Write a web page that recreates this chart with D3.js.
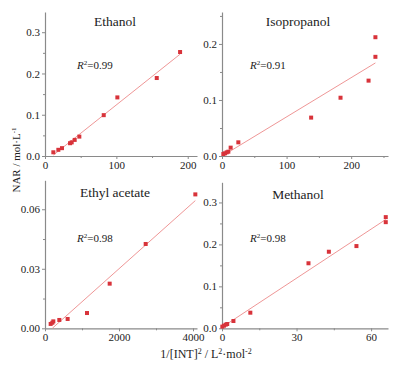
<!DOCTYPE html>
<html>
<head>
<meta charset="utf-8">
<script src="https://cdn.jsdelivr.net/npm/d3@7"></script>
<style>
  body { margin: 0; background: #fff; }
  text { font-family: "Liberation Serif", "Times New Roman", serif; fill: #222; }
</style>
</head>
<body>
<div id="chart"></div>
<script>
// Datos
const names = ["Ethanol", "Isopropanol", "Ethyl acetate", "Methanol"];
const r2Labels = ["0.99", "0.91", "0.98", "0.98"];

const ethanolX = [11.7, 18.7, 23.8, 35.1, 37.4, 41.6, 48.1, 82.3, 101.4, 156.6, 189.3];
const ethanolY = [0.009, 0.015, 0.019, 0.031, 0.033, 0.039, 0.047, 0.099, 0.142, 0.189, 0.252];

const isoX = [2.1, 4.7, 7.2, 9.8, 13.4, 25.3, 138, 183.5, 226.9, 237.5, 237.5];
const isoY = [0.0036, 0.0048, 0.0065, 0.0077, 0.0149, 0.0244, 0.0685, 0.104, 0.1345, 0.177, 0.212];

const ethylX = [153, 198, 225, 387, 612, 1135, 1748, 2721, 4063];
const ethylY = [0.0022, 0.0028, 0.0035, 0.0042, 0.0047, 0.0077, 0.0225, 0.0425, 0.0675];

const methX = [0.13, 0.8, 1.5, 2.1, 4.6, 11.4, 34.8, 43.0, 54.1, 65.9, 65.9];
const methY = [0.004, 0.0063, 0.0087, 0.0102, 0.0174, 0.0372, 0.155, 0.1825, 0.196, 0.265, 0.253];

const xMax = [213, 257, 4108, 66.8];
const yMax = [0.349, 0.257, 0.0746, 0.348];
const xTicks = [[0, 100, 200], [0, 100, 200], [0, 2000, 4000], [0, 30, 60]];
const xMinor = [[50, 150], [50, 150, 250], [1000, 3000], [15, 45]];
const yTicks = [[0, 0.1, 0.2, 0.3], [0, 0.1, 0.2], [0, 0.03, 0.06], [0, 0.1, 0.2, 0.3]];
const yMinor = [[0.05, 0.15, 0.25], [0.05, 0.15, 0.25], [0.015, 0.045], [0.05, 0.15, 0.25]];
const yFormat = [".1f", ".1f", ".2f", ".1f"];

const seriesX = [ethanolX, isoX, ethylX, methX];
const seriesY = [ethanolY, isoY, ethylY, methY];

// Constantes
const WIDTH = 399;
const HEIGHT = 370;
const origins = [[45, 156], [222, 156], [45, 328.3], [222, 328.3]];
const plotW = [152, 166, 152, 166];
const plotH = [144, 144, 148, 146];

const axisColor = "#8a8a8a";
const pointColor = "#d8333a";
const lineColor = "#ec8a8a";

const svg = d3.select("#chart")
  .append("svg")
  .attr("width", WIDTH)
  .attr("height", HEIGHT);

names.forEach((name, i) => {
  const [x0, y0] = origins[i];
  const xScale = d3.scaleLinear().domain([0, xMax[i]]).range([x0, x0 + plotW[i]]);
  const yScale = d3.scaleLinear().domain([0, yMax[i]]).range([y0, y0 - plotH[i]]);

  const g = svg.append("g");

  // Ejes (mayores + menores)
  g.append("g")
    .attr("transform", `translate(0, ${y0})`)
    .call(d3.axisBottom(xScale).tickValues(xTicks[i]).tickFormat(d3.format("d"))
      .tickSize(3).tickPadding(2).tickSizeOuter(0));
  g.append("g")
    .attr("transform", `translate(0, ${y0})`)
    .call(d3.axisBottom(xScale).tickValues(xMinor[i]).tickSize(2).tickFormat("").tickSizeOuter(0))
    .select(".domain").remove();

  g.append("g")
    .attr("transform", `translate(${x0}, 0)`)
    .call(d3.axisLeft(yScale).tickValues(yTicks[i]).tickFormat(d3.format(yFormat[i]))
      .tickSize(3).tickPadding(2).tickSizeOuter(0));
  g.append("g")
    .attr("transform", `translate(${x0}, 0)`)
    .call(d3.axisLeft(yScale).tickValues(yMinor[i]).tickSize(2).tickFormat("").tickSizeOuter(0))
    .select(".domain").remove();

  g.selectAll(".domain").attr("stroke", axisColor).attr("stroke-width", 1.2);
  g.selectAll(".tick line").attr("stroke", axisColor);
  g.selectAll(".tick text")
    .style("font-family", "'Liberation Serif', serif")
    .style("font-size", "11px")
    .attr("fill", "#222");

  // Recta de ajuste (mínimos cuadrados)
  const xs = seriesX[i];
  const ys = seriesY[i];
  const mx = d3.mean(xs);
  const my = d3.mean(ys);
  const sxy = d3.sum(xs, (x, k) => (x - mx) * (ys[k] - my));
  const sxx = d3.sum(xs, x => (x - mx) * (x - mx));
  const slope = sxy / sxx;
  const intercept = my - slope * mx;
  const [xa, xb] = d3.extent(xs);
  const xStart = intercept < 0 ? Math.max(xa, -intercept / slope) : xa;
  const fit = [xStart, xb].map(x => [x, intercept + slope * x]);

  g.append("path")
    .datum(fit)
    .attr("fill", "none")
    .attr("stroke", lineColor)
    .attr("stroke-width", 0.9)
    .attr("d", d3.line().x(d => xScale(d[0])).y(d => yScale(d[1])));

  // Puntos
  const pts = xs.map((x, k) => ({ x: x, y: ys[k] }));
  g.selectAll("rect.pt")
    .data(pts)
    .join("rect")
    .attr("class", "pt")
    .attr("x", d => xScale(d.x) - 2)
    .attr("y", d => yScale(d.y) - 2)
    .attr("width", 4)
    .attr("height", 4)
    .attr("fill", pointColor);

  // Título
  const cx = x0 + (i % 2 === 0 ? 70 : 76);
  g.append("text")
    .attr("x", cx)
    .attr("y", y0 - plotH[i] + (i < 2 ? 14 : 17))
    .attr("text-anchor", "middle")
    .style("font-size", "13.5px")
    .text(name);

  // R²
  const r2 = g.append("text")
    .attr("x", x0 + (i % 2 === 0 ? 32 : 28))
    .attr("y", i < 2 ? 69 : 242)
    .style("font-size", "11px");
  r2.append("tspan").style("font-style", "italic").text("R");
  r2.append("tspan").attr("dy", -4).style("font-size", "7px").text("2");
  r2.append("tspan").attr("dy", 4).text("=" + r2Labels[i]);
});

// Etiquetas de ejes
const yl = svg.append("text")
  .attr("transform", "translate(20, 160) rotate(-90)")
  .attr("text-anchor", "middle")
  .style("font-size", "11px");
yl.append("tspan").text("NAR / mol·L");
yl.append("tspan").attr("dy", -4).style("font-size", "7px").text("-1");

const xl = svg.append("text")
  .attr("x", 206)
  .attr("y", 358)
  .attr("text-anchor", "middle")
  .style("font-size", "12px");
xl.append("tspan").text("1/[INT]");
xl.append("tspan").attr("dy", -4).style("font-size", "8px").text("2");
xl.append("tspan").attr("dy", 4).text(" / L");
xl.append("tspan").attr("dy", -4).style("font-size", "8px").text("2");
xl.append("tspan").attr("dy", 4).text("·mol");
xl.append("tspan").attr("dy", -4).style("font-size", "8px").text("-2");
</script>
</body>
</html>
